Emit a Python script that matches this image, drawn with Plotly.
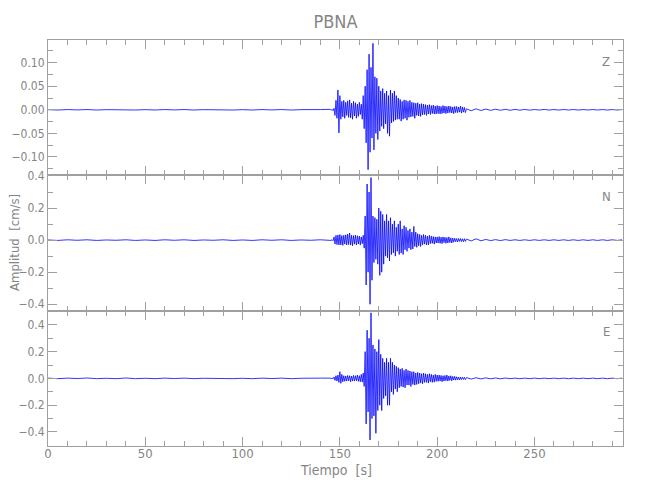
import numpy as np
import plotly.graph_objects as go
from plotly.subplots import make_subplots

# time stamps of the hand-read samples (s)
t_pre = np.arange(0, 141, 5)          # 29 samples, quiet pre-event noise
t_main = np.arange(145, 215, 0.5)     # 140 samples, P, S and coda
t_post = np.arange(215, 296, 2.5)     # 33 samples, late coda

# ---- Z component (cm/s) ----
z_pre = [0.0003, -0.0005, 0.0005, -0.0003, 0.0005, -0.0005, 0.0003, -0.0003, 0.0005, -0.0005,
         0.0003, -0.0005, 0.0005, -0.0003, 0.0005, -0.0005, 0.0003, -0.0003, 0.0005, -0.0005,
         0.0003, -0.0005, 0.0005, -0.0003, 0.0005, -0.0005, 0.0003, -0.0003, 0.0005]
z_main = [0.001, -0.001, 0.001, -0.002, 0.003, -0.012, 0.02, -0.018, 0.042, -0.049,
          0.03, -0.02, 0.018, -0.015, 0.02, -0.018, 0.016, -0.012, 0.019, -0.016,
          0.021, -0.017, 0.014, -0.02, 0.018, -0.013, 0.015, -0.018, 0.012, -0.014,
          0.016, -0.01, 0.012, -0.02, 0.03, -0.04, 0.05, -0.07, 0.085, -0.127,
          0.118, -0.09, 0.09, -0.06, 0.141, -0.085, 0.07, -0.05, 0.067, -0.063,
          0.05, -0.045, 0.04, -0.035, 0.045, -0.04, 0.035, -0.03, 0.04, -0.05,
          0.03, -0.056, 0.042, -0.028, 0.035, -0.025, 0.04, -0.022, 0.03, -0.02,
          0.025, -0.02, 0.022, -0.024, 0.018, -0.02, 0.021, -0.018, 0.02, -0.022,
          0.018, -0.016, 0.02, -0.015, 0.016, -0.014, 0.015, -0.018, 0.014, -0.012,
          0.015, -0.013, 0.012, -0.014, 0.013, -0.011, 0.012, -0.01, 0.011, -0.012,
          0.01, -0.009, 0.011, -0.01, 0.009, -0.008, 0.01, -0.009, 0.008, -0.009,
          0.009, -0.008, 0.008, -0.009, 0.007, -0.008, 0.009, -0.007, 0.008, -0.008,
          0.007, -0.007, 0.008, -0.006, 0.007, -0.007, 0.006, -0.008, 0.007, -0.006,
          0.007, -0.006, 0.006, -0.005, 0.008, -0.007, 0.006, -0.005, 0.005, -0.006]
z_post = [0.002, -0.002, 0.002, -0.0015, 0.0015, -0.0012, 0.0012, -0.001, 0.001, -0.001,
          0.0008, -0.0008, 0.0008, -0.0008, 0.0006, -0.0006, 0.0008, -0.0006, 0.0006, -0.0006,
          0.0006, -0.0005, 0.0006, -0.0006, 0.0005, -0.0005, 0.0006, -0.0005, 0.0005, -0.0005,
          0.0005, -0.0005, 0.0005]

# ---- N component (cm/s) ----
n_pre = [0.001, -0.002, 0.002, -0.001, 0.002, -0.002, 0.001, -0.001, 0.002, -0.002,
         0.001, -0.002, 0.002, -0.001, 0.002, -0.002, 0.001, -0.001, 0.002, -0.002,
         0.001, -0.002, 0.002, -0.001, 0.002, -0.002, 0.001, -0.001, 0.002]
n_main = [0.002, -0.002, 0.003, -0.004, 0.02, -0.025, 0.03, -0.028, 0.032, -0.03,
          0.035, -0.03, 0.028, -0.033, 0.03, -0.025, 0.033, -0.03, 0.038, -0.028,
          0.044, -0.03, 0.03, -0.035, 0.028, -0.025, 0.032, -0.03, 0.027, -0.024,
          0.025, -0.03, 0.02, -0.022, 0.03, -0.05, 0.15, -0.28, 0.35, -0.2,
          0.3, -0.40, 0.39, -0.25, 0.15, -0.14, 0.14, -0.12, 0.13, -0.15,
          0.2, -0.22, 0.18, -0.2, 0.16, -0.15, 0.12, -0.1, 0.16, -0.11,
          0.12, -0.13, 0.14, -0.09, 0.1, -0.08, 0.12, -0.1, 0.08, -0.07,
          0.1, -0.09, 0.12, -0.08, 0.07, -0.09, 0.09, -0.06, 0.08, -0.07,
          0.06, -0.05, 0.07, -0.06, 0.05, -0.055, 0.085, -0.04, 0.05, -0.045,
          0.04, -0.035, 0.035, -0.04, 0.03, -0.03, 0.035, -0.025, 0.03, -0.03,
          0.025, -0.03, 0.03, -0.022, 0.025, -0.02, 0.022, -0.025, 0.02, -0.018,
          0.02, -0.018, 0.022, -0.02, 0.018, -0.022, 0.02, -0.016, 0.018, -0.02,
          0.016, -0.018, 0.02, -0.015, 0.014, -0.018, 0.012, -0.013, 0.012, -0.01,
          0.01, -0.012, 0.01, -0.008, 0.01, -0.009, 0.008, -0.01, 0.009, -0.008]
n_post = [0.006, -0.005, 0.008, -0.004, 0.004, -0.003, 0.003, -0.003, 0.003, -0.002,
          0.002, -0.002, 0.002, -0.002, 0.002, -0.002, 0.002, -0.002, 0.002, -0.002,
          0.002, -0.002, 0.002, -0.002, 0.002, -0.002, 0.002, -0.002, 0.002, -0.002,
          0.002, -0.002, 0.002]

# ---- E component (cm/s) ----
e_pre = [0.002, -0.002, 0.002, -0.001, 0.003, -0.002, 0.001, -0.002, 0.003, -0.002,
         0.001, -0.002, 0.002, -0.001, 0.002, -0.002, 0.001, -0.001, 0.002, -0.002,
         0.001, -0.002, 0.002, -0.001, 0.002, -0.002, 0.001, -0.001, 0.002]
e_main = [0.002, -0.002, 0.002, -0.003, 0.01, -0.015, 0.02, -0.02, 0.025, -0.03,
          0.05, -0.037, 0.03, -0.025, 0.02, -0.022, 0.018, -0.02, 0.022, -0.018,
          0.02, -0.025, 0.018, -0.02, 0.022, -0.02, 0.02, -0.018, 0.025, -0.022,
          0.02, -0.025, 0.03, -0.028, 0.04, -0.06, 0.2, -0.34, 0.36, -0.25,
          0.3, -0.46, 0.49, -0.3, 0.25, -0.28, 0.22, -0.41, 0.2, -0.24,
          0.29, -0.2, 0.18, -0.24, 0.15, -0.15, 0.12, -0.13, 0.15, -0.2,
          0.12, -0.2, 0.15, -0.1, 0.12, -0.12, 0.1, -0.08, 0.09, -0.1,
          0.08, -0.07, 0.07, -0.06, 0.075, -0.065, 0.06, -0.07, 0.07, -0.05,
          0.06, -0.05, 0.055, -0.06, 0.05, -0.045, 0.05, -0.05, 0.04, -0.045,
          0.045, -0.04, 0.04, -0.035, 0.035, -0.04, 0.04, -0.03, 0.035, -0.03,
          0.03, -0.035, 0.035, -0.025, 0.03, -0.03, 0.025, -0.028, 0.03, -0.022,
          0.025, -0.022, 0.025, -0.02, 0.022, -0.025, 0.02, -0.02, 0.022, -0.018,
          0.025, -0.02, 0.018, -0.015, 0.02, -0.018, 0.015, -0.012, 0.015, -0.013,
          0.012, -0.01, 0.01, -0.012, 0.01, -0.008, 0.009, -0.008, 0.008, -0.009]
e_post = [0.006, -0.005, 0.005, -0.004, 0.004, -0.003, 0.003, -0.003, 0.003, -0.002,
          0.002, -0.002, 0.002, -0.002, 0.002, -0.002, 0.002, -0.002, 0.002, -0.002,
          0.002, -0.002, 0.002, -0.002, 0.002, -0.002, 0.002, -0.002, 0.002, -0.002,
          0.002, -0.002, 0.002]

components = ["Z", "N", "E"]
y_ranges = [[-0.139, 0.148], [-0.44, 0.404], [-0.505, 0.506]]
y_dtick = [0.05, 0.2, 0.2]
y_minor = [0.025, 0.1, 0.1]
y_fmt = [".2f", ".1f", ".1f"]
x_ticks = [0, 50, 100, 150, 200, 250]

t_all = np.concatenate([t_pre, t_main, t_post])
series = []
for pre, main, post in [(z_pre, z_main, z_post), (n_pre, n_main, n_post), (e_pre, e_main, e_post)]:
    assert len(pre) == len(t_pre) and len(main) == len(t_main) and len(post) == len(t_post)
    series.append(np.concatenate([pre, main, post]))

FONT = "Liberation Sans Narrow, DejaVu Sans Condensed, Roboto, sans-serif"
GRAY = "#858585"
AXIS = "#a0a0a0"

# the page body adds an 8 px offset, so the figure is laid out in shifted pixels
OFF = 8
PL, PR, PT, PB = 48, 623, 40, 446          # plot area in screenshot pixels
W, H = 650, 500

fig = make_subplots(rows=3, cols=1, shared_xaxes=True, vertical_spacing=0)
for i, y in enumerate(series):
    fig.add_trace(go.Scatter(x=t_all, y=y, mode="lines",
                             line=dict(color="rgb(0,0,255)", width=0.8),
                             showlegend=False, hoverinfo="skip"), row=i + 1, col=1)
    fig.update_yaxes(range=y_ranges[i], dtick=y_dtick[i], tick0=0, tickformat=y_fmt[i],
                     ticks="inside", ticklen=9, tickcolor=AXIS, showline=True,
                     linecolor=AXIS, linewidth=1, mirror="allticks", showgrid=False,
                     zeroline=False, tickfont=dict(family=FONT, size=12, color=GRAY),
                     minor=dict(ticks="inside", ticklen=5, dtick=y_minor[i], tick0=0,
                                tickcolor=AXIS, showgrid=False),
                     row=i + 1, col=1)
    fig.update_xaxes(range=[0, 295.5], tickvals=x_ticks, ticks="inside", ticklen=9,
                     tickcolor=AXIS, showline=True, linecolor=AXIS, linewidth=1,
                     mirror="allticks", showgrid=False, zeroline=False,
                     tickfont=dict(family=FONT, size=13, color=GRAY),
                     ticklabelstandoff=-5,
                     minor=dict(ticks="inside", ticklen=5, dtick=10, tick0=0,
                                tickcolor=AXIS, showgrid=False),
                     row=i + 1, col=1)

pw, ph = PR - PL, PB - PT


def px_to_paper(x, y):
    return (x - PL) / pw, 1 - (y - PT) / ph


label_y = [61.7, 196.7, 331.7]
for name, ly in zip(components, label_y):
    ax, ay = px_to_paper(606, ly)
    fig.add_annotation(text=name, xref="paper", yref="paper", x=ax, y=ay,
                       xanchor="center", yanchor="middle", showarrow=False,
                       font=dict(family=FONT, size=13, color=GRAY))

ax, ay = px_to_paper(14, 243)
fig.add_annotation(text="Amplitud  [cm/s]", xref="paper", yref="paper",
                   x=ax, y=ay, textangle=-90, xanchor="center", yanchor="middle",
                   showarrow=False, font=dict(family=FONT, size=13, color=GRAY))
ax, ay = px_to_paper(335.5, 470)
fig.add_annotation(text="Tiempo  [s]", xref="paper", yref="paper",
                   x=ax, y=ay, xanchor="center", yanchor="middle", showarrow=False,
                   font=dict(family=FONT, size=14, color=GRAY))

fig.update_layout(
    width=W, height=H,
    margin=dict(l=PL - OFF, r=W - (PR - OFF), t=PT - OFF, b=H - (PB - OFF), autoexpand=False),
    paper_bgcolor="white", plot_bgcolor="white",
    title=dict(text="PBNA", x=(335.5 - OFF) / W, xanchor="center", y=1 - (22 - OFF) / H,
               yanchor="middle", font=dict(family=FONT, size=18, color=GRAY)),
)

fig.write_html("out.html")
